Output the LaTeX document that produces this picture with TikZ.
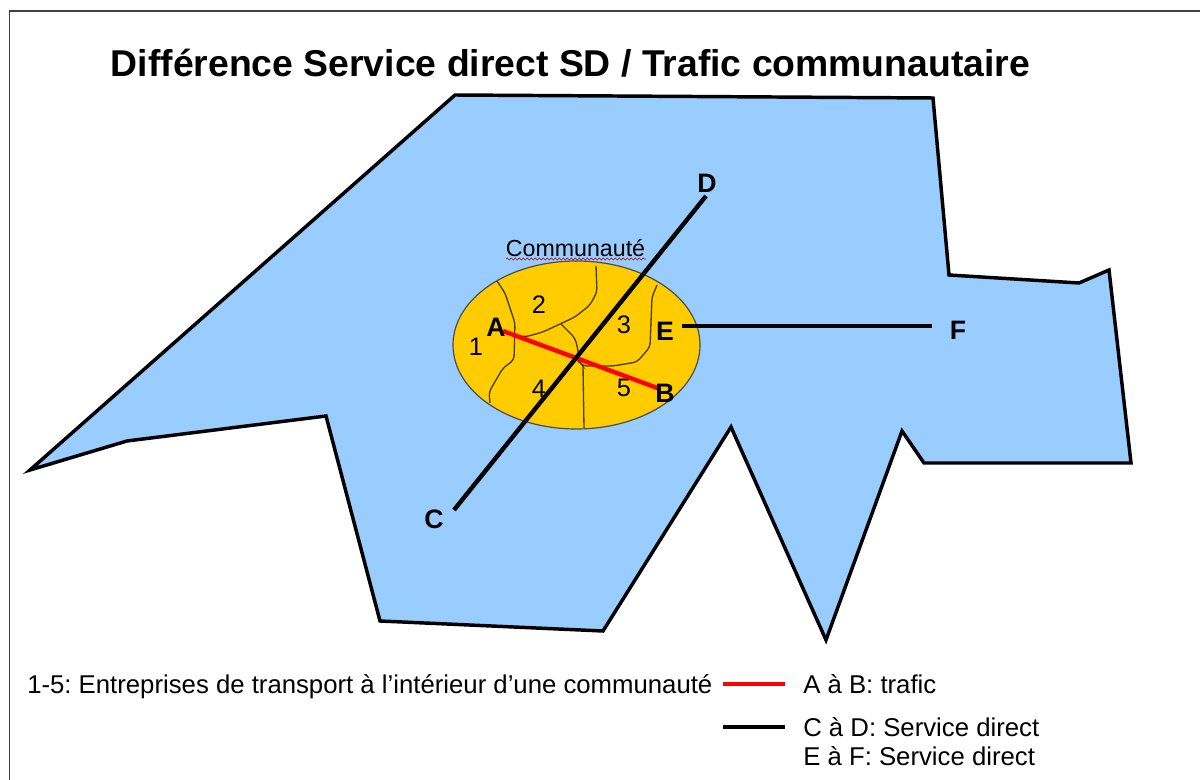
\documentclass[tikz,border=0pt]{standalone}
\usepackage{fontspec}
\setmainfont{Liberation Sans}
\frenchspacing
\usetikzlibrary{decorations.pathmorphing,shapes.geometric}
\definecolor{landblue}{HTML}{99CCFF}
\definecolor{commgold}{HTML}{FFCC00}
\tikzset{
  x=0.75pt,y=-0.75pt,
  land/.style={draw=black,fill=landblue,line width=2.6pt,line join=miter},
  comm/.style={draw=black!70,fill=commgold,line width=0.9pt},
  border/.style={draw=black!75,line width=0.9pt},
  rgn/.style={draw=black!70!commgold,line width=1pt,rounded corners=3pt},
  blackroute/.style={draw=black,line width=3.3pt},
  redroute/.style={draw=red,line width=3.3pt},
  ptlabel/.style={font=\fontsize{20}{22}\selectfont\bfseries,inner sep=0pt},
  numlabel/.style={font=\fontsize{19}{21}\selectfont,inner sep=0pt},
  legend/.style={font=\fontsize{19.3}{21}\selectfont,inner sep=0pt,anchor=base west},
  title/.style={font=\fontsize{28}{30}\selectfont\bfseries,inner sep=0pt,anchor=base},
  squiggle/.style={draw=red!70!black,line width=0.4pt,decorate,decoration={snake,amplitude=0.7pt,segment length=3pt}},
}
\begin{document}
\begin{tikzpicture}
\useasboundingbox (0,0) rectangle (1200,780);
\fill[white] (0,0) rectangle (1200,780);
\draw[border] (9.5,790) -- (9.5,11) -- (1210,11);
\node[title] (title) at (570.5,77) {Différence Service direct SD / Trafic communautaire};
\draw[land] (455,95) -- (933,98) -- (949,275) -- (1079,283) -- (1109,270) -- (1131,463) -- (924,463) -- (902,431) -- (826,640) -- (731,427) -- (603,631) -- (380,621) -- (326,416) -- (127,441) -- (30,470) -- cycle;
\draw[comm] (576.5,345) ellipse [x radius=123.5,y radius=84];
% company boundaries
\draw[rgn] (497,281) -- (505,293) -- (515,323) -- (514,360) -- (503,368) -- (489,392) -- (490,403);
\draw[rgn] (596,266) -- (597,292) -- (590,305) -- (575,317) -- (560,324) -- (543,332) -- (525,337) -- (515,335);
\draw[rgn] (561,324) -- (575,338) -- (578,350) -- (579,362) -- (583,366) -- (613,366) -- (637,362) -- (650,347) -- (652,297) -- (657,285);
\draw[rgn] (583,366) -- (584,428);
% labels
\node[font=\fontsize{17.4}{19}\selectfont,inner sep=0pt] (comlabel) at (575.5,248) {Communauté};
\draw[squiggle] (506,259) -- (646,259);
\node[numlabel] (n1) at (476,347) {1};
\node[numlabel] (n2) at (539,305) {2};
\node[numlabel] (n3) at (624,325) {3};
\node[numlabel] (n4) at (539,389) {4};
\node[numlabel] (n5) at (624,388) {5};
\coordinate (ra) at (503,331);
\coordinate (rb) at (660,389);
\coordinate (rc) at (454,510);
\coordinate (rd) at (706,196);
\coordinate (re) at (682,326);
\coordinate (rf) at (932,326);
\draw[redroute] (ra) -- (rb);
\draw[blackroute] (rc) -- (rd);
\draw[blackroute] (re) -- (rf);
\node[ptlabel] (A) at (496,327) {A};
\node[ptlabel] (B) at (665,393) {B};
\node[ptlabel] (C) at (434,519) {C};
\node[ptlabel] (D) at (707,183) {D};
\node[ptlabel] (E) at (665,331) {E};
\node[ptlabel] (F) at (958,330) {F};
% legend
\node[legend] (l1) at (27,693) {1-5: Entreprises de transport à l’intérieur d’une communauté};
\node[legend] (l2) at (803,693) {A à B: trafic};
\node[legend] (l3) at (803,736) {C à D: Service direct};
\node[legend] (l4) at (803,765) {E à F: Service direct};
\coordinate (k1a) at (723,684);
\coordinate (k1b) at (785,684);
\coordinate (k2a) at (723,727);
\coordinate (k2b) at (785,727);
\draw[redroute] (k1a) -- (k1b);
\draw[blackroute] (k2a) -- (k2b);
\end{tikzpicture}
\end{document}
